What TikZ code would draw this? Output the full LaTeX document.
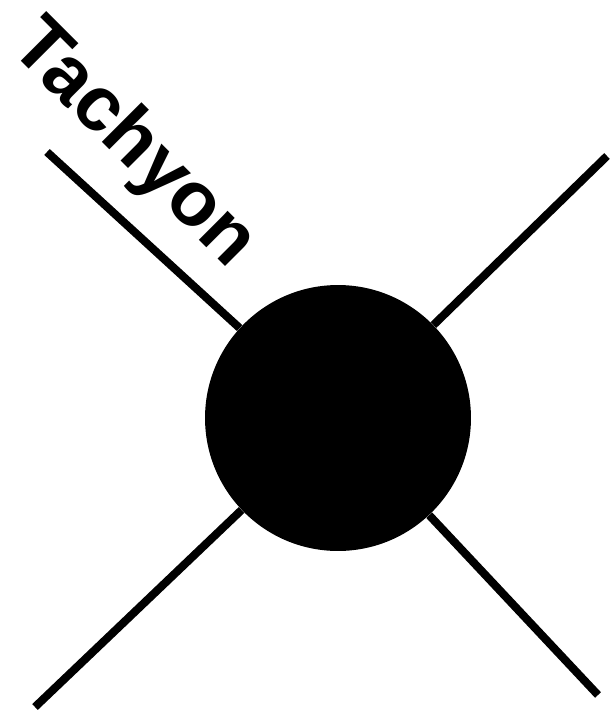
\documentclass[tikz,border=0pt]{standalone}
\usepackage{fontspec}
\setmainfont{Liberation Sans}
\usetikzlibrary{positioning}

\begin{document}
\begin{tikzpicture}[
    x=0.02cm, y=-0.02cm,
    vertex/.style={circle, fill=black, draw=none, inner sep=0pt, minimum size=5.32cm},
    leg/.style={draw=black, line width=4.6pt},
    tag/.style={font=\fontsize{44}{44}\selectfont\bfseries, rotate=-45, inner sep=0pt}
  ]
    \useasboundingbox (0,0) rectangle (611,718);
    \node[vertex] (blob) at (338,418) {};
    \coordinate (ul) at (47,152);
    \coordinate (ur) at (607,156);
    \coordinate (ll) at (35,707);
    \coordinate (lr) at (598,695);
    \node[tag] (name) at (133,145) {Tachyon};
    \draw[leg] (ul) -- (blob);
    \draw[leg] (ur) -- (blob);
    \draw[leg] (ll) -- (blob);
    \draw[leg] (lr) -- (blob);
  \end{tikzpicture}
\end{document}
